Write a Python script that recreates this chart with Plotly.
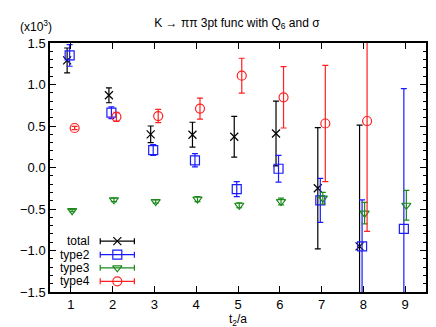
import plotly.graph_objects as go

# ---- data (values in units of 10^3) ----
t_total = [1, 2, 3, 4, 5, 6, 7, 8]
total = [1.29, 0.87, 0.40, 0.395, 0.37, 0.41, -0.25, -0.95]
total_err = [0.15, 0.09, 0.10, 0.15, 0.245, 0.39, 0.73, 1.46]

t_type2 = [1, 2, 3, 4, 5, 6, 7, 8, 9]
type2 = [1.35, 0.66, 0.21, 0.087, -0.26, -0.015, -0.395, -0.95, -0.74]
type2_err = [0.13, 0.07, 0.065, 0.08, 0.09, 0.16, 0.265, 0.56, 1.69]

t_type3 = [1, 2, 3, 4, 5, 6, 7, 8, 9]
type3 = [-0.52, -0.39, -0.41, -0.38, -0.455, -0.41, -0.37, -0.55, -0.455]
type3_err = [0.012, 0.02, 0.02, 0.03, 0.03, 0.04, 0.07, 0.13, 0.18]

t_type4 = [1, 2, 3, 4, 5, 6, 7, 8]
type4 = [0.476, 0.61, 0.62, 0.71, 1.106, 0.846, 0.53, 0.56]
type4_err = [0.02, 0.055, 0.08, 0.127, 0.21, 0.37, 0.70, 1.33]

x_ticks = [1, 2, 3, 4, 5, 6, 7, 8, 9]
y_ticks = [-1.5, -1.0, -0.5, 0.0, 0.5, 1.0, 1.5]

FONT = "Liberation Sans, Arial, sans-serif"

series = [
    ("total", t_total, total, total_err, "#000000", "x-thin-open", 8, -0.09),
    ("type2", t_type2, type2, type2_err, "#1a1aff", "square-open", 9, -0.03),
    ("type3", t_type3, type3, type3_err, "#1e8a1e", "triangle-down-open", 8, 0.03),
    ("type4", t_type4, type4, type4_err, "#ff2020", "circle-open", 9, 0.09),
]

fig = go.Figure()

for name, tx, vals, errs, col, sym, sz, off in series:
    fig.add_trace(go.Scatter(
        x=[v + off for v in tx], y=vals, mode="markers", name=name,
        marker=dict(symbol=sym, size=sz, color=col, line=dict(color=col, width=1.2)),
        error_y=dict(type="data", array=errs, visible=True, color=col, thickness=1.2, width=3),
        showlegend=False, cliponaxis=True,
    ))

# gnuplot-style key drawn on a hidden overlay axis (0..1 in both directions)
key_x = 0.179
key_half = 0.0454
key_y = [0.204, 0.150, 0.097, 0.043]
for (name, tx, vals, errs, col, sym, sz, off), ky in zip(series, key_y):
    fig.add_trace(go.Scatter(
        x=[key_x], y=[ky], xaxis="x2", yaxis="y2", mode="markers",
        marker=dict(symbol=sym, size=sz, color=col, line=dict(color=col, width=1.2)),
        error_x=dict(type="data", array=[key_half], visible=True, color=col, thickness=1.2, width=3),
        showlegend=False, hoverinfo="skip",
    ))
    fig.add_annotation(
        x=0.113, y=ky, xref="x2", yref="y2", text=name, showarrow=False,
        xanchor="right", yanchor="middle", font=dict(family=FONT, size=12, color="black"),
    )

fig.add_annotation(
    x=-0.085, y=1.07, xref="paper", yref="paper", text="(x10<sup>3</sup>)",
    showarrow=False, xanchor="left", yanchor="middle",
    font=dict(family=FONT, size=12, color="black"),
)

fig.update_layout(
    width=436, height=327,
    margin=dict(l=40, r=18, t=35, b=43),
    paper_bgcolor="white", plot_bgcolor="white",
    font=dict(family=FONT, size=12, color="black"),
    title=dict(text="K \u2192 \u03c0\u03c0 3pt func with Q<sub>6</sub> and \u03c3",
               x=0.525, xanchor="center", y=0.955, yanchor="middle",
               font=dict(family=FONT, size=12, color="black")),
    xaxis=dict(range=[0.5, 9.5], tickvals=x_ticks, ticktext=[str(v) for v in x_ticks],
               ticks="inside", ticklen=6, tickwidth=1.2, tickcolor="black",
               showline=True, linecolor="black", linewidth=1.5, mirror="ticks",
               showgrid=False, zeroline=False,
               tickfont=dict(family=FONT, size=13),
               title=dict(text="t<sub>2</sub>/a", standoff=2, font=dict(family=FONT, size=12))),
    yaxis=dict(range=[-1.5, 1.5], tickvals=y_ticks, tickformat=".1f",
               ticks="inside", ticklen=6, tickwidth=1.2, tickcolor="black",
               showline=True, linecolor="black", linewidth=1.5, mirror="ticks",
               showgrid=False, zeroline=False,
               tickfont=dict(family=FONT, size=13),
               minor=dict(dtick=0.1, tick0=0, ticks="inside", ticklen=3, tickcolor="black", showgrid=False)),
    xaxis2=dict(range=[0, 1], overlaying="x", visible=False, fixedrange=True),
    yaxis2=dict(range=[0, 1], overlaying="y", visible=False, fixedrange=True),
)

fig.write_html("out.html")
